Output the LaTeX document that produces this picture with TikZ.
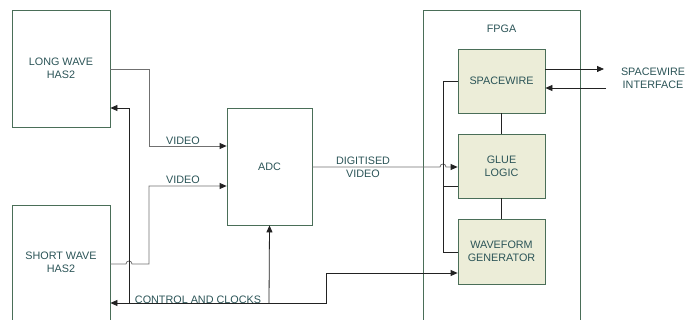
\documentclass[tikz,border=0pt]{standalone}
\usepackage{fontspec}
\setmainfont{Liberation Sans}
\usetikzlibrary{arrows.meta,calc}
\definecolor{boxline}{HTML}{4A6E58}
\definecolor{txt}{HTML}{2B5457}
\definecolor{fpgafill}{HTML}{ECEDD8}
\definecolor{wire}{HTML}{222222}
\definecolor{wiregray}{HTML}{707070}
\tikzset{
  blk/.style={draw=boxline, line width=0.8pt, text=txt, align=center, inner sep=0pt, font=\fontsize{10.8}{13}\selectfont},
  inner/.style={blk, fill=fpgafill, minimum width=87pt},
  lbl/.style={text=txt, align=center, inner sep=0pt, font=\fontsize{10.8}{13}\selectfont},
  wireline/.style={draw=wire, line width=0.8pt},
  vidline/.style={draw=wiregray, line width=0.8pt},
  tip/.style={-{Triangle[length=7pt,width=6pt]}},
  darktip/.style={-{Triangle[length=7pt,width=6pt,color=wire]}},
}
\begin{document}
\begin{tikzpicture}[x=1pt,y=-1pt]
\useasboundingbox (0,0) rectangle (688,320);
% blocks
\node[blk, minimum width=98pt, minimum height=117pt] (lw) at (61,68.5) {LONG WAVE\\HAS2};
\node[blk, minimum width=98pt, minimum height=118pt] (sw) at (61,264) {};
\node[lbl] (swt) at (61,262) {SHORT WAVE\\HAS2};
\node[blk, minimum width=85pt, minimum height=117pt] (adc) at (269.5,166.5) {ADC};
\node[blk, minimum width=157pt, minimum height=320pt] (fpga) at (501.5,170) {};
\node[lbl] (fpgat) at (501.5,29) {FPGA};
\node[inner, minimum height=64pt] (spw) at (501.5,81) {SPACEWIRE};
\node[inner, minimum height=64pt] (glue) at (501.5,166) {GLUE\\LOGIC};
\node[inner, minimum height=65pt] (wg) at (501.5,251.5) {WAVEFORM\\GENERATOR};
\node[lbl] (spwi) at (653,78) {SPACEWIRE\\INTERFACE};
% coordinates
\coordinate (ctl) at (269,303);
\coordinate (bus) at (443,81);
% long wave video
\draw[vidline, darktip] (110,69) -- (149,69) -- (149,146) -- (adc.west |- 0,146);
\node[lbl] (v1) at (183,140.5) {VIDEO};
% short wave video with hop
\draw[vidline, darktip] (110,264) -- (126,264) .. controls (126,260) and (132,260) .. (132,264) -- (149,264) -- (149,186) -- (adc.west |- 0,186);
\node[lbl] (v2) at (183,180) {VIDEO};
% control and clocks
\draw[wireline, tip] (ctl) -- (sw.east |- ctl);
\draw[wireline, tip] (ctl) -- (adc.south);
\draw[wireline, tip] (129,303) -- (129,108) -- (lw.east |- 0,108);
\draw[wireline, tip] (ctl) -- (326,303) -- (326,273) -- (wg.west |- 0,273);
\node[lbl, anchor=south] (cc) at (198,304) {CONTROL AND CLOCKS};
% digitised video with hop
\draw[vidline, darktip] (adc.east |- 0,167) -- (440,167) .. controls (440,163) and (446,163) .. (446,167) -- (glue.west |- 0,167);
\node[lbl] (dv) at (363,167) {DIGITISED\\VIDEO};
% internal bus
\draw[wireline] (spw.west |- bus) -- (bus) -- (443,252) -- (wg.west |- 0,252);
\draw[wireline] (443,186) -- (glue.west |- 0,186);
\draw[wireline] (spw.south) -- (glue.north);
\draw[wireline] (glue.south) -- (wg.north);
% spacewire interface
\draw[wireline, tip] (spw.east |- 0,69) -- (604,69);
\draw[wireline, tip] (606,88) -- (spw.east |- 0,88);
\end{tikzpicture}
\end{document}
